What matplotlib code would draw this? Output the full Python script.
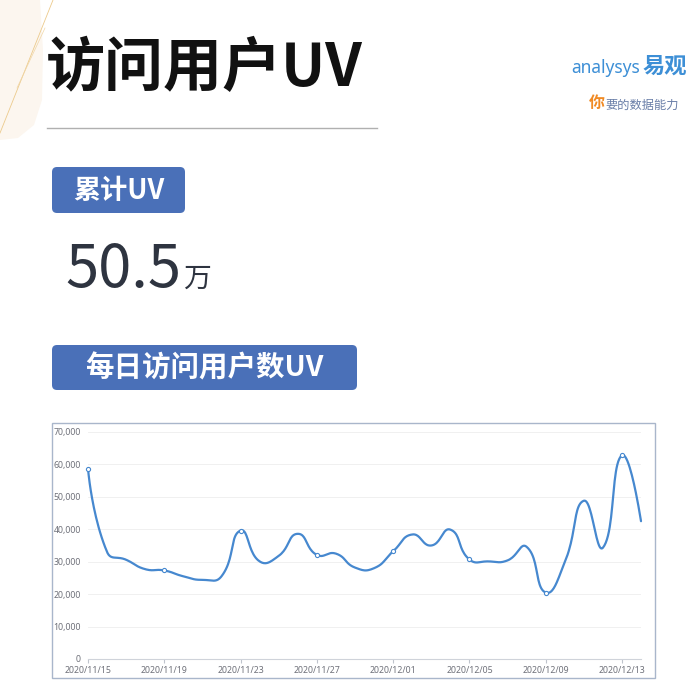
import numpy as np
import pandas as pd
import matplotlib
matplotlib.use('Agg')
import matplotlib.pyplot as plt
import matplotlib.patches as mpatches

plt.rcParams['font.family'] = ['Noto Sans CJK SC', 'DejaVu Sans']

# daily UV, 2020/11/15 .. 2020/12/14
dates = pd.date_range('2020-11-15', periods=30, freq='D')
uv = [58700, 33000, 30600, 27700, 27300, 25500, 24400, 25500, 39600, 30100,
      31800, 38600, 32100, 32500, 28200, 28000, 33200, 38400, 35000, 39900,
      30700, 30100, 30400, 34600, 20500, 29800, 48800, 34300, 62800, 42500]
yticks = [0, 10000, 20000, 30000, 40000, 50000, 60000, 70000]
total_uv = '50.5'
title = '访问用户UV'
box1_text = '累计UV'
box2_text = '每日访问用户数UV'

W, H = 700, 698
LINE = '#4688cf'
BOX = '#4a70b8'


def smooth_path(ax, xs, ys, smooth=0.5, steps=24):
    # echarts-like bezier smoothing, done in display space
    pts = ax.transData.transform(np.column_stack([xs, ys]))
    n = len(pts)
    cin = pts.copy()
    cout = pts.copy()
    for i in range(1, n - 1):
        prev, cur, nxt = pts[i - 1], pts[i], pts[i + 1]
        v = (nxt - prev) * smooth
        d0 = np.hypot(*(cur - prev))
        d1 = np.hypot(*(nxt - cur))
        r = d1 / (d0 + d1)
        cin[i] = cur - v * (1 - r)
        cout[i] = cur + v * r
    t = np.linspace(0, 1, steps)[:, None]
    seg = []
    for i in range(n - 1):
        p0, p1, p2, p3 = pts[i], cout[i], cin[i + 1], pts[i + 1]
        b = ((1 - t) ** 3) * p0 + 3 * ((1 - t) ** 2) * t * p1 + 3 * (1 - t) * t ** 2 * p2 + t ** 3 * p3
        seg.append(b if i == 0 else b[1:])
    curve = np.vstack(seg)
    return ax.transData.inverted().transform(curve)


fig = plt.figure(figsize=(W / 100, H / 100), dpi=100)

# decoration layer in pixel units
bg = fig.add_axes([0, 0, 1, 1])
bg.set_xlim(0, W)
bg.set_ylim(H, 0)
bg.axis('off')

bg.add_patch(mpatches.Polygon([(0, 0), (40, 0), (43, 50), (42, 100), (34, 125), (18, 138), (0, 140)],
                              closed=True, facecolor='#fcf6ef', edgecolor='none'))
bg.plot([53, 0], [0, 133], color='#ecca8c', lw=0.6)
bg.plot([45, 17], [28, 88], color='#f0d6a6', lw=0.5)

bg.text(46, 69, title, fontsize=42.5, fontweight='bold', color='#111111', va='center', ha='left')
bg.plot([47, 377], [128, 128], color='#b0b0b0', lw=1)

# logo
bg.text(640, 68, 'analysys', fontsize=12.5, color='#3d8fd6', family=['Noto Sans', 'DejaVu Sans'],
        va='center', ha='right')
bg.text(643, 66, '易观', fontsize=16, fontweight='bold', color='#3d8fd6', va='center', ha='left')
bg.text(589, 103, '你', fontsize=11.5, fontweight='bold', color='#f08a24', va='center', ha='left')
bg.text(605, 105, '要的数据能力', fontsize=8.8, color='#6a7fa8', va='center', ha='left')

# label boxes
bg.add_patch(mpatches.FancyBboxPatch((52, 167), 133, 46, boxstyle='round,pad=0,rounding_size=5',
                                     facecolor=BOX, edgecolor='none'))
bg.text(119, 191, box1_text, fontsize=19.5, fontweight='bold', color='white', va='center', ha='center')

bg.text(65, 271, total_uv, fontsize=43, color='#2e3440', va='center', ha='left')
bg.text(183, 279, '万', fontsize=20, color='#2e3440', va='center', ha='left')

bg.add_patch(mpatches.FancyBboxPatch((52, 345), 305, 45, boxstyle='round,pad=0,rounding_size=5',
                                     facecolor=BOX, edgecolor='none'))
bg.text(204, 368, box2_text, fontsize=20.5, fontweight='bold', color='white', va='center', ha='center')

# chart frame
bg.add_patch(mpatches.Rectangle((52, 423), 603, 255, facecolor='white', edgecolor='#a9b6cb', lw=1))

# line chart
x = np.arange(len(uv))
ax = fig.add_axes([88 / W, 1 - 659 / H, (641 - 88) / W, (659 - 432) / H])
ax.set_xlim(0, len(uv) - 1)
ax.set_ylim(0, 70000)
ax.patch.set_alpha(0)

for s in ['top', 'right', 'left']:
    ax.spines[s].set_visible(False)
ax.spines['bottom'].set_color('#cfd3da')
ax.spines['bottom'].set_linewidth(0.8)

ax.set_yticks(yticks)
ax.set_yticklabels([f'{v:,}' for v in yticks], family=['Noto Sans', 'DejaVu Sans'])
ax.tick_params(axis='y', length=0, labelsize=6.3, labelcolor='#6e7079', pad=5)
ax.grid(axis='y', color='#eeeeee', lw=0.6)
ax.set_axisbelow(True)

tick_idx = x[::4]
ax.set_xticks(tick_idx)
ax.set_xticklabels([dates[i].strftime('%Y/%m/%d') for i in tick_idx], family=['Noto Sans', 'DejaVu Sans'])
ax.tick_params(axis='x', length=3, color='#bfc4cc', labelsize=6.3, labelcolor='#6e7079', pad=2)

fig.canvas.draw()
curve = smooth_path(ax, x, uv)
ax.plot(curve[:, 0], curve[:, 1], color=LINE, lw=1.6, solid_capstyle='round', clip_on=False)
ax.plot(x[::4], np.array(uv)[::4], 'o', ms=3, mfc='white', mec=LINE, mew=0.8, clip_on=False)

fig.savefig('out.png', dpi=100)
